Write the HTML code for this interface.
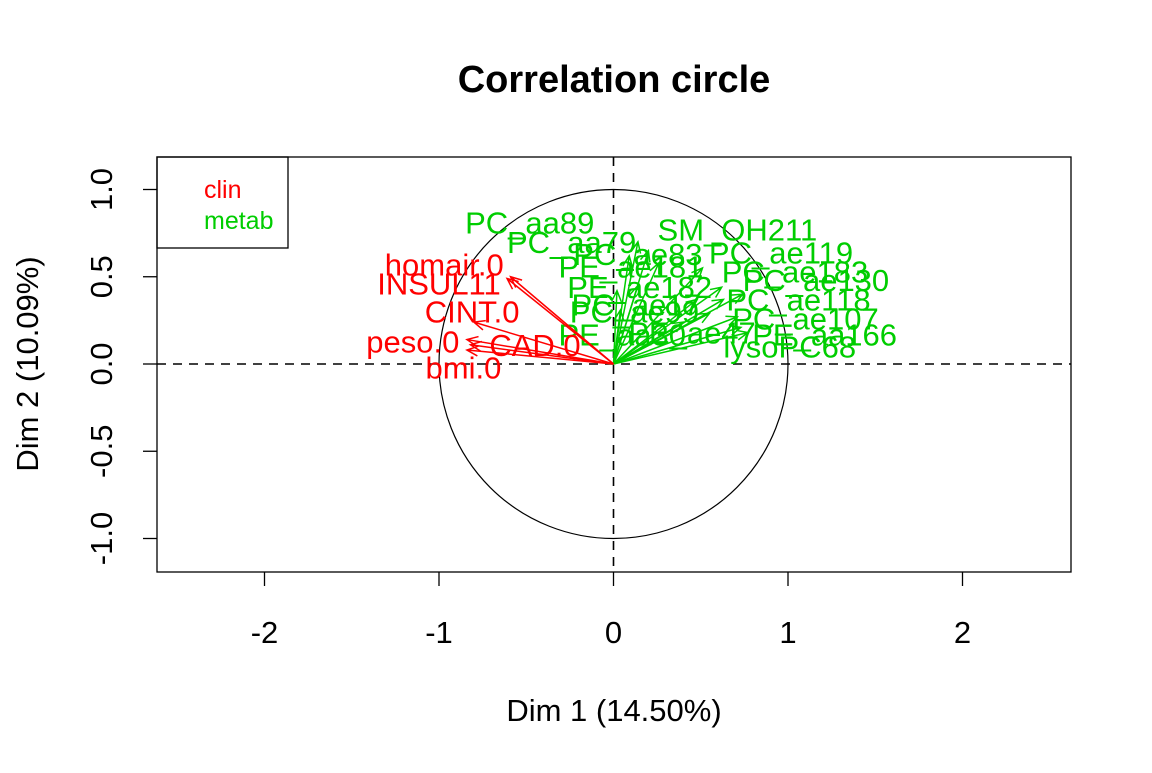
<!DOCTYPE html>
<html><head><meta charset="utf-8"><style>
html,body{margin:0;padding:0;background:#fff}
svg text{font-family:"Liberation Sans",sans-serif}
</style></head><body>
<svg id="chart" width="1152" height="768" viewBox="0 0 1152 768" xmlns="http://www.w3.org/2000/svg">
<text x="614" y="92" text-anchor="middle" font-size="38" font-weight="bold">Correlation circle</text>
<rect x="157" y="157" width="914" height="415" fill="none" stroke="#000" stroke-width="1.3"/>
<g id="axes"></g>
<g id="marks"></g>
<text x="614" y="721" text-anchor="middle" font-size="31">Dim 1 (14.50%)</text>
<text transform="translate(38,364) rotate(-90)" text-anchor="middle" font-size="31">Dim 2 (10.09%)</text>
<g>
<rect x="157" y="157" width="131" height="91" fill="none" stroke="#000" stroke-width="1.3"/>
<text x="204" y="198" font-size="25" fill="#ff0000">clin</text>
<text x="204" y="229" font-size="25" fill="#00cd00">metab</text>
</g>
</svg>
<script>
const xTicks=[-2,-1,0,1,2];
const yTicks=[-1.0,-0.5,0.0,0.5,1.0];
const clinNames=["homair.0","INSUL11","CINT.0","peso.0","CAD.0","bmi.0"];
const clinX=[-0.59,-0.61,-0.80,-0.84,-0.82,-0.84];
const clinY=[0.50,0.49,0.24,0.14,0.11,0.08];
const clinLabX=[-0.97,-1.00,-0.81,-1.15,-0.45,-0.86];
const clinLabY=[0.57,0.46,0.30,0.13,0.11,-0.02];
const metNames=["PC_aa89","PC_aa79","SM_OH211","PC_ae83","PC_ae119","PE_ae181","PE_ae182","PC_ae183","PC_ae130","PC_ae118","PC_ae107","PE_aa166","lysoPC68","PC_ae17","PC_ae99","PE_aa30","PE_ae47"];
const metX=[0.14,0.09,0.20,0.26,0.51,0.62,0.74,0.71,0.73,0.77,0.63,0.48,0.14,0.02,0.04,0.55,0.40];
const metY=[0.70,0.62,0.65,0.58,0.55,0.44,0.40,0.27,0.21,0.18,0.37,0.37,0.45,0.42,0.31,0.29,0.24];
const metLabX=[-0.48,-0.24,0.71,0.14,0.96,0.10,0.15,1.04,1.16,1.06,1.10,1.21,1.01,0.13,0.12,0.05,0.45];
const metLabY=[0.81,0.70,0.77,0.63,0.64,0.56,0.44,0.53,0.48,0.37,0.26,0.17,0.10,0.34,0.30,0.17,0.18];

const X0=613.5,XS=174.5,Y0=364,YS=174.5;
const sx=v=>X0+v*XS, sy=v=>Y0-v*YS;
const NS="http://www.w3.org/2000/svg";
function mk(tag,attrs,parent){const e=document.createElementNS(NS,tag);for(const k in attrs)e.setAttribute(k,attrs[k]);parent.appendChild(e);return e;}
const axes=document.getElementById('axes'), marks=document.getElementById('marks');
xTicks.forEach(t=>{
  const l=mk('line',{x1:sx(t),x2:sx(t),y1:572,y2:586,stroke:'#000','stroke-width':1.3},axes);
  
  
  const tx=mk('text',{x:sx(t),y:643,'text-anchor':'middle','font-size':31},axes);
  tx.textContent=String(t);
  
  
});
yTicks.forEach(t=>{
  const l=mk('line',{x1:143,x2:157,y1:sy(t),y2:sy(t),stroke:'#000','stroke-width':1.3},axes);
  
  
  const tx=mk('text',{transform:`translate(112,${sy(t)}) rotate(-90)`,'text-anchor':'middle','font-size':31},axes);
  tx.textContent=t.toFixed(1);
  
  
});
const c=mk('circle',{cx:sx(0),cy:sy(0),r:XS,fill:'none',stroke:'#000','stroke-width':1.2},marks);


const h=mk('line',{x1:157,x2:1071,y1:sy(0),y2:sy(0),stroke:'#000','stroke-width':1.6,'stroke-dasharray':'9,7'},marks);


const v=mk('line',{x1:sx(0),x2:sx(0),y1:157,y2:572,stroke:'#000','stroke-width':1.6,'stroke-dasharray':'9,7'},marks);


function arrow(x,y,col,name){
  const x1=sx(0),y1=sy(0),x2=sx(x),y2=sy(y);
  const a=Math.atan2(y2-y1,x2-x1),L=12,w=0.42;
  const d=`M${x1},${y1}L${x2},${y2}M${x2-L*Math.cos(a-w)},${y2-L*Math.sin(a-w)}L${x2},${y2}L${x2-L*Math.cos(a+w)},${y2-L*Math.sin(a+w)}`;
  const p=mk('path',{d:d,stroke:col,fill:'none','stroke-width':1.5},marks);
  
  
}
function label(x,y,txt,col,name){
  const t=mk('text',{x:sx(x),y:sy(y)+11,'text-anchor':'middle','font-size':31,fill:col},marks);
  t.textContent=txt;
  
  
}
metNames.forEach((n,i)=>arrow(metX[i],metY[i],'#00cd00','metab-arrow'));
metNames.forEach((n,i)=>label(metLabX[i],metLabY[i],n,'#00cd00','metab-label'));
clinNames.forEach((n,i)=>arrow(clinX[i],clinY[i],'#ff0000','clin-arrow'));
clinNames.forEach((n,i)=>label(clinLabX[i],clinLabY[i],n,'#ff0000','clin-label'));
</script>
</body></html>
